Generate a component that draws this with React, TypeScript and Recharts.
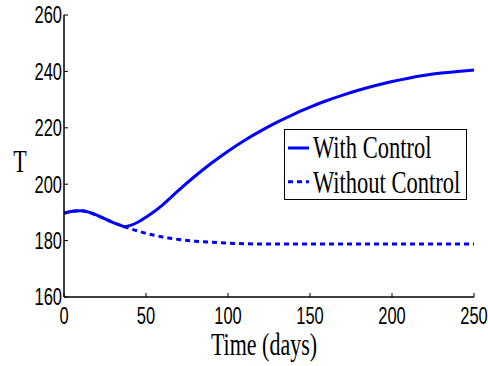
import React from 'react';
import { LineChart, Line, XAxis, YAxis, Legend } from 'recharts';

const days = [0, 5, 10, 15, 20, 25, 30, 35, 37, 40, 45, 50, 55, 60, 70, 80, 90, 100, 110, 120, 130, 140, 150, 160, 170, 180, 190, 200, 210, 220, 230, 240, 250];
const withControl = [189.7, 190.4, 190.6, 190.1, 189.0, 187.7, 186.4, 185.3, 184.9, 185.3, 186.5, 188.3, 190.3, 192.6, 197.9, 202.9, 207.5, 211.7, 215.5, 218.9, 222.0, 224.8, 227.3, 229.6, 231.6, 233.4, 235.0, 236.4, 237.6, 238.6, 239.4, 240.0, 240.5];
const withoutControl = [189.7, 190.4, 190.6, 190.1, 189.0, 187.7, 186.4, 185.3, 184.9, 184.3, 183.4, 182.6, 181.9, 181.3, 180.4, 179.8, 179.4, 179.1, 178.9, 178.8, 178.8, 178.8, 178.8, 178.8, 178.8, 178.8, 178.8, 178.8, 178.8, 178.8, 178.8, 178.8, 178.8];

const xTicks = [0, 50, 100, 150, 200, 250];
const yTicks = [160, 180, 200, 220, 240, 260];

const seriesNames = ['With Control', 'Without Control'];
const seriesDash = ['', '5 4'];

const data = days.map((d, i) => ({ day: d, withControl: withControl[i], withoutControl: withoutControl[i] }));

const SY = 1.42;
const BLUE = '#0000ff';

const XTick = (props: any) => {
  const { x, y, payload } = props;
  return (
    <text transform={`translate(${x},${y + 21}) scale(1,${SY})`} textAnchor="middle" fontFamily="Liberation Sans" fontSize={16.5} fill="#000">
      {payload.value}
    </text>
  );
};

const YTick = (props: any) => {
  const { x, y, payload } = props;
  return (
    <text transform={`translate(${x},${y + 8.4}) scale(1,${SY})`} textAnchor="end" fontFamily="Liberation Sans" fontSize={16.5} fill="#000">
      {payload.value}
    </text>
  );
};

const Empty = () => <g />;

const XLabel = (props: any) => {
  const vb = props.viewBox || { x: 64, y: 297, width: 410, height: 69 };
  return (
    <text transform={`translate(${vb.x + vb.width / 2 - 5},${vb.y + 58}) scale(1,1.45)`} textAnchor="middle" fontFamily="Liberation Serif" fontSize={22} fill="#000">
      Time (days)
    </text>
  );
};

const YLabel = (props: any) => {
  const vb = props.viewBox || { x: 0, y: 15, width: 64, height: 282 };
  return (
    <text transform={`translate(${vb.x + 20},${vb.y + vb.height / 2 + 16}) scale(1,1.45)`} textAnchor="middle" fontFamily="Liberation Serif" fontSize={22} fill="#000">
      T
    </text>
  );
};

const LegendBox = () => (
  <div style={{ width: 183, height: 71, border: '1px solid #000', background: '#fff', boxSizing: 'border-box' }}>
    <svg width={181} height={69} style={{ display: 'block' }}>
      {seriesNames.map((name, i) => (
        <g key={name}>
          <line x1={3} x2={24} y1={18 + i * 33.7} y2={18 + i * 33.7} stroke={BLUE} strokeWidth={3} strokeDasharray={seriesDash[i] || undefined} />
          <text transform={`translate(28,${28 + i * 34.7}) scale(1,1.4)`} fontFamily="Liberation Serif" fontSize={22.5} fill="#000">
            {name}
          </text>
        </g>
      ))}
    </svg>
  </div>
);

export default function App() {
  const axisLine = { stroke: '#000', strokeWidth: 1.5 };
  const tickLine = { stroke: '#000', strokeWidth: 1 };
  return (
    <div style={{ position: 'absolute', left: 0, top: 0, background: '#fff' }}>
      <LineChart width={488} height={366} data={data} margin={{ top: 15, right: 14, bottom: 0, left: 0 }}>
        <XAxis dataKey="day" type="number" domain={[0, 250]} ticks={xTicks} height={69} tickSize={-4} tickMargin={10}
          axisLine={axisLine} tickLine={tickLine} tick={<XTick />} label={{ content: <XLabel /> }} />
        <XAxis xAxisId="top" orientation="top" type="number" domain={[0, 250]} ticks={xTicks} height={0} tickSize={-4}
          axisLine={axisLine} tickLine={tickLine} tick={<Empty />} />
        <YAxis type="number" domain={[160, 260]} ticks={yTicks} width={64} tickSize={-4} tickMargin={6}
          axisLine={axisLine} tickLine={tickLine} tick={<YTick />} label={{ content: <YLabel /> }} />
        <YAxis yAxisId="right" orientation="right" type="number" domain={[160, 260]} ticks={yTicks} width={0} tickSize={-4}
          axisLine={axisLine} tickLine={tickLine} tick={<Empty />} />
        <Line dataKey="withoutControl" name={seriesNames[1]} stroke={BLUE} strokeWidth={3} strokeDasharray="5 4" dot={false} type="monotone" isAnimationActive={false} />
        <Line dataKey="withControl" name={seriesNames[0]} stroke={BLUE} strokeWidth={3} dot={false} type="monotone" isAnimationActive={false} />
        <Legend layout="vertical" align="center" verticalAlign="middle" content={<LegendBox />}
          wrapperStyle={{ position: 'absolute', left: 284, top: 129, width: 183, height: 71 }} />
      </LineChart>
    </div>
  );
}
